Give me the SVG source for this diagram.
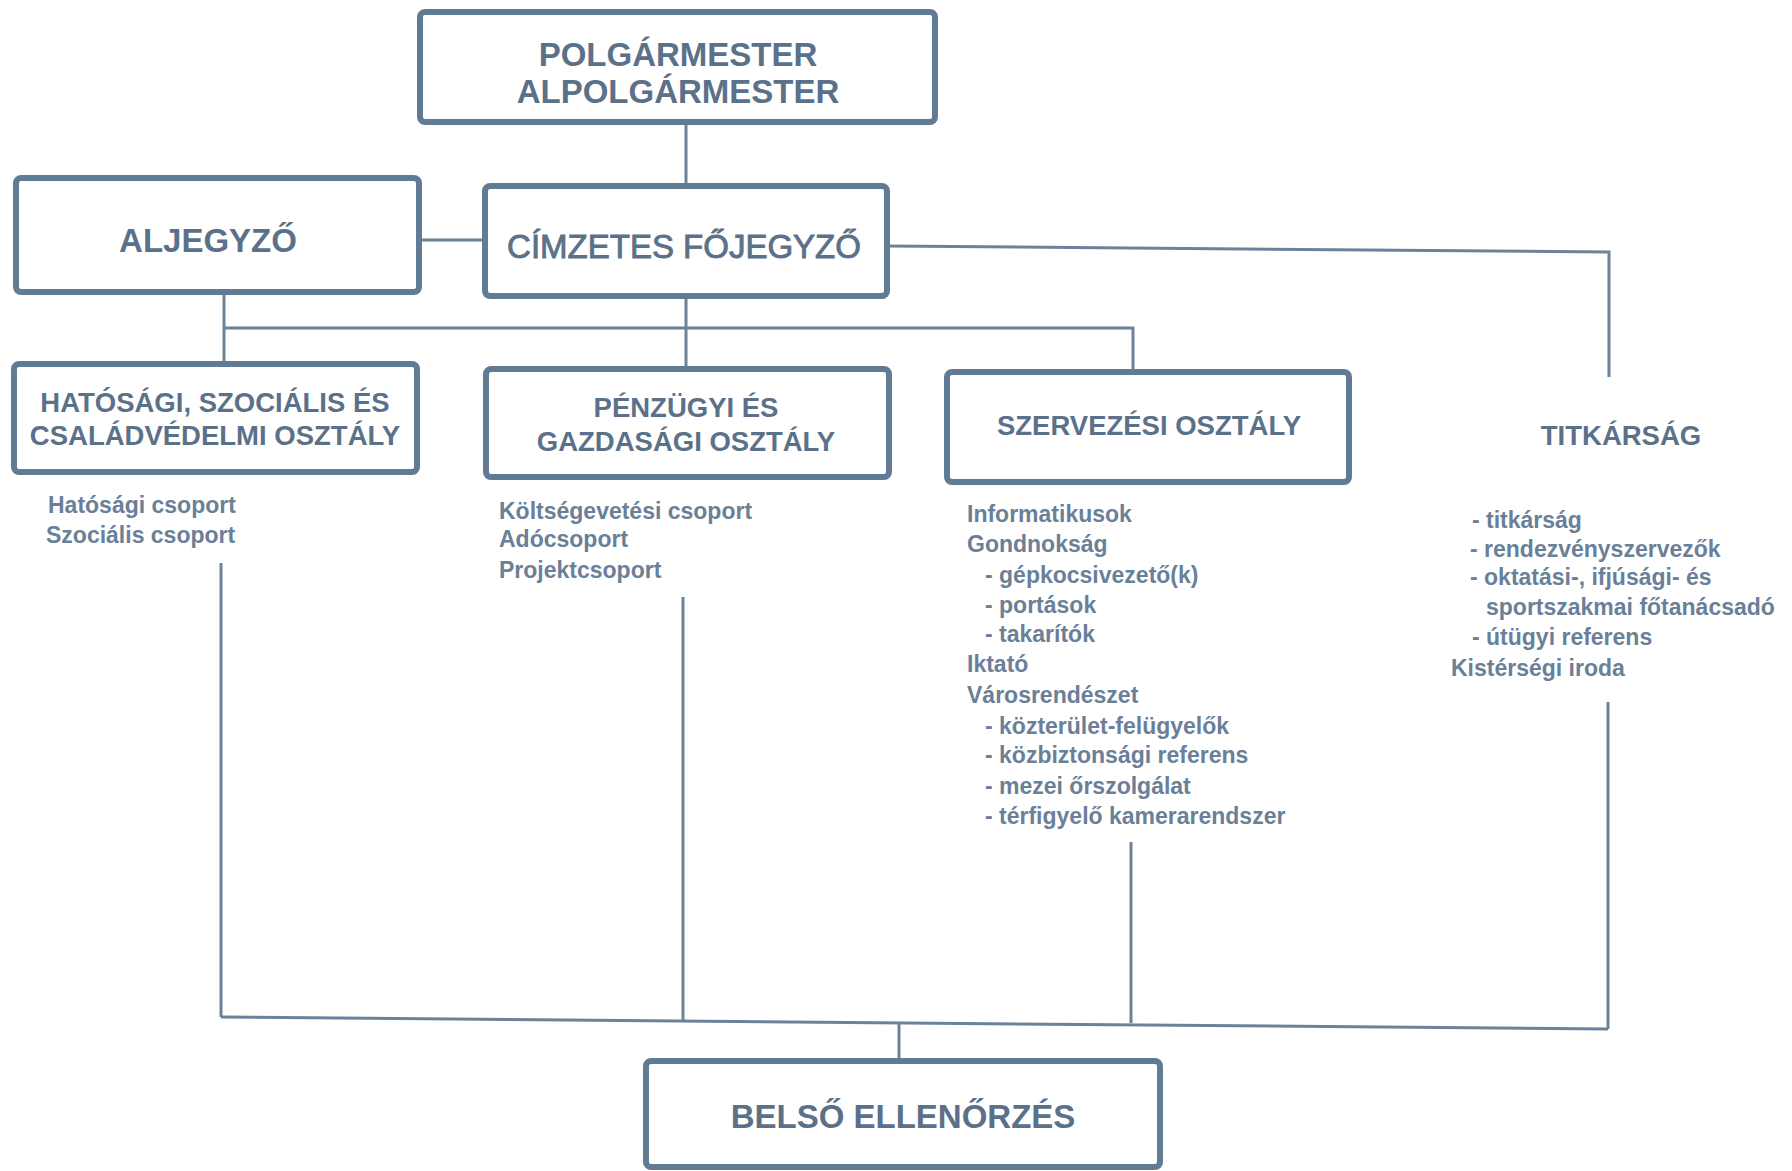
<svg xmlns="http://www.w3.org/2000/svg" width="1792" height="1171" viewBox="0 0 1792 1171">
<style>
.box{fill:#fff;stroke:#617b95;stroke-width:6;}
.ln{fill:none;stroke:#6b8299;stroke-width:3;}
.t{font-family:"Liberation Sans",Arial,sans-serif;font-weight:bold;fill:#5b7189;text-anchor:middle;}
.big{font-size:33px;}
.mid{font-size:27.5px;}
.reg{font-weight:normal;stroke:#5b7189;stroke-width:0.9;}
.s{font-family:"Liberation Sans",Arial,sans-serif;font-weight:bold;font-size:23px;fill:#6a7f98;}
</style>
<rect width="1792" height="1171" fill="#fff"/>
<g id="connectors">
<path class="ln" d="M686 123 V185"/>
<path class="ln" d="M419 240 H485"/>
<path class="ln" d="M887 246 L1609 252 V377"/>
<path class="ln" d="M686 297 V368"/>
<path class="ln" d="M224 293 V363"/>
<path class="ln" d="M224 328 H1133 V371"/>
<path class="ln" d="M221 563 V1017"/>
<path class="ln" d="M683 597 V1020"/>
<path class="ln" d="M1131 842 V1023"/>
<path class="ln" d="M1608 702 V1029"/>
<path class="ln" d="M221 1017 L1608 1029"/>
<path class="ln" d="M899 1023 V1060"/>
</g>
<g id="polgarmester">
<rect class="box" x="420" y="12" width="515" height="110" rx="5"/>
<text class="t" x="678" y="66" font-size="33">POLGÁRMESTER</text>
<text class="t big" x="678" y="103">ALPOLGÁRMESTER</text>
</g>
<g id="aljegyzo">
<rect class="box" x="16" y="178" width="403" height="114" rx="5"/>
<text class="t big" x="208" y="252">ALJEGYZŐ</text>
</g>
<g id="cimzetes">
<rect class="box" x="485" y="186" width="402" height="110" rx="5"/>
<text class="t big reg" x="684" y="258" font-size="34">CÍMZETES FŐJEGYZŐ</text>
</g>
<g id="hatosagi">
<rect class="box" x="14" y="364" width="403" height="108" rx="5"/>
<text class="t mid" x="215" y="412">HATÓSÁGI, SZOCIÁLIS ÉS</text>
<text class="t mid" x="215" y="445">CSALÁDVÉDELMI OSZTÁLY</text>
</g>
<g id="penzugyi">
<rect class="box" x="486" y="369" width="403" height="108" rx="5"/>
<text class="t mid" x="686" y="417">PÉNZÜGYI ÉS</text>
<text class="t mid" x="686" y="451">GAZDASÁGI OSZTÁLY</text>
</g>
<g id="szervezesi">
<rect class="box" x="947" y="372" width="402" height="110" rx="5"/>
<text class="t mid" x="1149" y="435">SZERVEZÉSI OSZTÁLY</text>
</g>
<g id="titkarsag">
<text class="t mid" x="1621" y="445">TITKÁRSÁG</text>
</g>
<g id="belso">
<rect class="box" x="646" y="1061" width="514" height="106" rx="5"/>
<text class="t big" x="903" y="1128">BELSŐ ELLENŐRZÉS</text>
</g>
<g id="hatosagi-sub">
<text class="s" x="48" y="513">Hatósági csoport</text>
<text class="s" x="46" y="543">Szociális csoport</text>
</g>
<g id="penzugyi-sub">
<text class="s" x="499" y="519">Költségevetési csoport</text>
<text class="s" x="499" y="547">Adócsoport</text>
<text class="s" x="499" y="578">Projektcsoport</text>
</g>
<g id="szervezesi-sub">
<text class="s" x="967" y="522">Informatikusok</text>
<text class="s" x="967" y="552">Gondnokság</text>
<text class="s" x="985" y="583">- gépkocsivezető(k)</text>
<text class="s" x="985" y="613">- portások</text>
<text class="s" x="985" y="642">- takarítók</text>
<text class="s" x="967" y="672">Iktató</text>
<text class="s" x="967" y="703">Városrendészet</text>
<text class="s" x="985" y="734">- közterület-felügyelők</text>
<text class="s" x="985" y="763">- közbiztonsági referens</text>
<text class="s" x="985" y="794">- mezei őrszolgálat</text>
<text class="s" x="985" y="824">- térfigyelő kamerarendszer</text>
</g>
<g id="titkarsag-sub">
<text class="s" x="1472" y="528">- titkárság</text>
<text class="s" x="1470" y="557">- rendezvényszervezők</text>
<text class="s" x="1470" y="585">- oktatási-, ifjúsági- és</text>
<text class="s" x="1486" y="615">sportszakmai főtanácsadó</text>
<text class="s" x="1472" y="645">- útügyi referens</text>
<text class="s" x="1451" y="676">Kistérségi iroda</text>
</g>
</svg>
